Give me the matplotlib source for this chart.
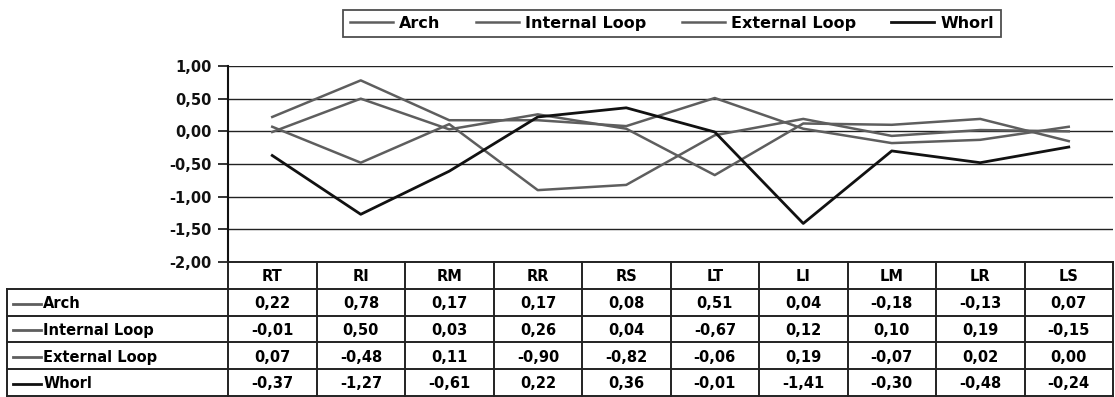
import matplotlib
matplotlib.use("Agg")
import matplotlib.pyplot as plt
import numpy as np

categories = ["RT", "RI", "RM", "RR", "RS", "LT", "LI", "LM", "LR", "LS"]
series_names = ["Arch", "Internal Loop", "External Loop", "Whorl"]
arch = [0.22, 0.78, 0.17, 0.17, 0.08, 0.51, 0.04, -0.18, -0.13, 0.07]
internal_loop = [-0.01, 0.50, 0.03, 0.26, 0.04, -0.67, 0.12, 0.10, 0.19, -0.15]
external_loop = [0.07, -0.48, 0.11, -0.90, -0.82, -0.06, 0.19, -0.07, 0.02, 0.00]
whorl = [-0.37, -1.27, -0.61, 0.22, 0.36, -0.01, -1.41, -0.30, -0.48, -0.24]
y_ticks = [1.0, 0.5, 0.0, -0.5, -1.0, -1.5, -2.0]
y_tick_labels = ["1,00", "0,50", "0,00", "-0,50", "-1,00", "-1,50", "-2,00"]

series = [arch, internal_loop, external_loop, whorl]
colors = ["#5e5e5e", "#5e5e5e", "#5e5e5e", "#111111"]
widths = [1.8, 1.8, 1.8, 2.0]

plt.rcParams["font.family"] = ["DejaVu Sans"]
plt.rcParams["font.weight"] = "bold"
plt.rcParams["font.size"] = 10.5

W, H = 1115, 397
fig = plt.figure(figsize=(W / 100, H / 100), dpi=100)
ax = fig.add_axes([228 / W, 1 - 262 / H, 885 / W, 196 / H])
tab = fig.add_axes([7 / W, 1 / H, 1106 / W, 134 / H])

# line chart
x = np.arange(len(categories))
for vals, name, col, lw in zip(series, series_names, colors, widths):
    ax.plot(x, vals, color=col, lw=lw, label=name)

ax.set_xlim(-0.5, len(categories) - 0.5)
ax.set_ylim(-2, 1)
ax.set_yticks(y_ticks)
ax.set_yticklabels(y_tick_labels, fontweight="bold")
ax.set_xticks([])
for s in ["top", "right", "bottom"]:
    ax.spines[s].set_visible(False)
ax.spines["left"].set_linewidth(1.5)
ax.spines["left"].set_color("#111111")
ax.yaxis.grid(True, color="#222222", lw=1.0)
ax.set_axisbelow(True)
ax.tick_params(axis="y", length=7, width=1.2, pad=5, colors="#111111")

# data table under the chart
ncol = len(categories)
nrow = len(series_names)
tab.set_xlim(-3.0, ncol - 0.5)
tab.set_ylim(nrow + 1, 0)
tab.axis("off")
edge = dict(color="#222222", lw=1.4, clip_on=False, solid_capstyle="projecting")
tab.plot([-0.5, ncol - 0.5], [0, 0], **edge)
for r in range(1, nrow + 2):
    tab.plot([-3.0, ncol - 0.5], [r, r], **edge)
for c in np.arange(-0.5, ncol):
    tab.plot([c, c], [0, nrow + 1], **edge)
tab.plot([-3.0, -3.0], [1, nrow + 1], **edge)

for j, cat in enumerate(categories):
    tab.text(j, 0.55, cat, ha="center", va="center")
for i, (name, vals, col) in enumerate(zip(series_names, series, colors)):
    y = i + 1.55
    tab.plot([-2.93, -2.62], [y, y], color=col, lw=2.0)
    tab.text(-2.59, y, name, ha="left", va="center")
    for j, v in enumerate(vals):
        tab.text(j, y, f"{v:.2f}".replace(".", ","), ha="center", va="center")

leg = fig.legend(loc="center", bbox_to_anchor=(672 / W, 1 - 23.5 / H), ncol=4,
                 frameon=True, fancybox=False, edgecolor="#222222",
                 handlelength=2.7, handletextpad=0.4, columnspacing=2.2,
                 borderpad=0.4, prop=dict(weight="bold", size=11.5))
leg.get_frame().set_linewidth(1.3)

fig.savefig("out.png", dpi=100)
